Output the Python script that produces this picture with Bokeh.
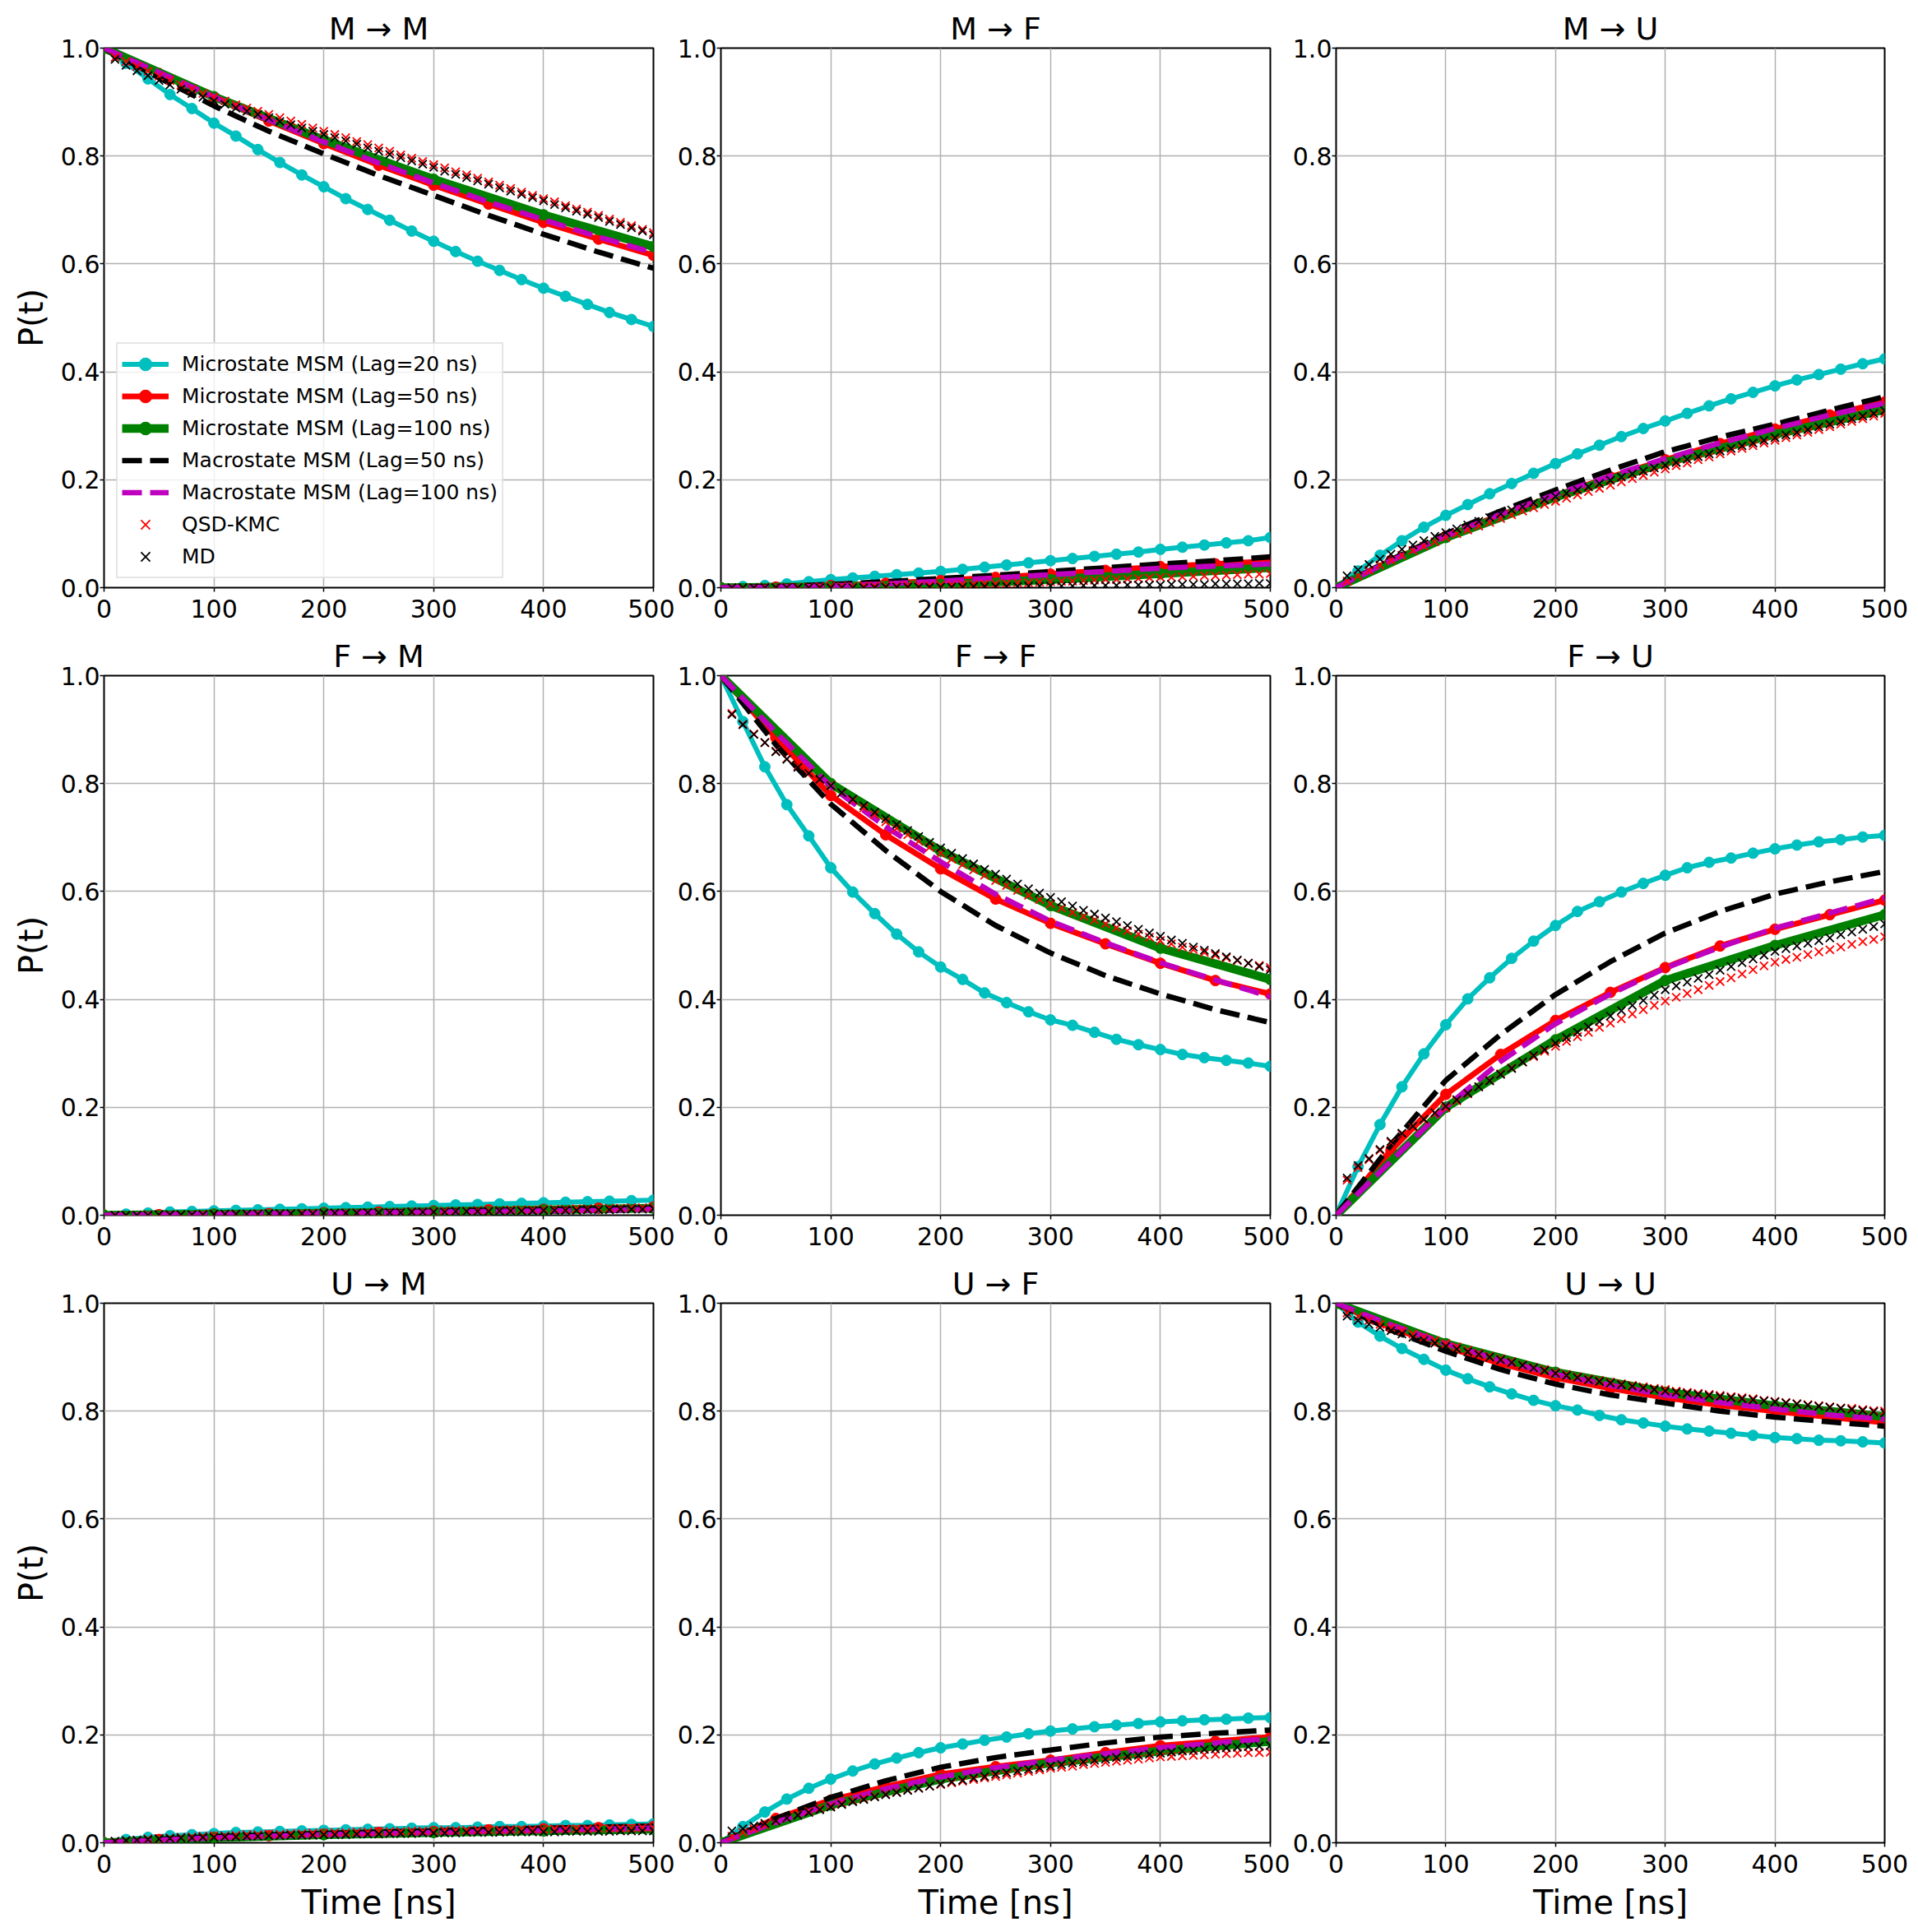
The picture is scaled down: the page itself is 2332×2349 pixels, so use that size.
from bokeh.plotting import figure
from bokeh.layouts import column, row
from bokeh.models import Range1d, FixedTicker, PrintfTickFormatter, Legend, LegendItem
from bokeh.embed import file_html
from bokeh.resources import INLINE

# ---------------- data ----------------
T_LAG20 = [0, 20, 40, 60, 80, 100, 120, 140, 160, 180, 200, 220, 240, 260, 280,
           300, 320, 340, 360, 380, 400, 420, 440, 460, 480, 500]
T_LAG50 = [0, 50, 100, 150, 200, 250, 300, 350, 400, 450, 500]
T_LAG100 = [0, 100, 200, 300, 400, 500]
T_TRAJ = [10, 20, 30, 40, 50, 60, 70, 80, 90, 100,
          110, 120, 130, 140, 150, 160, 170, 180, 190, 200,
          210, 220, 230, 240, 250, 260, 270, 280, 290, 300,
          310, 320, 330, 340, 350, 360, 370, 380, 390, 400,
          410, 420, 430, 440, 450, 460, 470, 480, 490, 500]
X_TICKS = [0, 100, 200, 300, 400, 500]
Y_TICKS = [0.0, 0.2, 0.4, 0.6, 0.8, 1.0]

# Microstate MSM (Lag=20 ns)
CYAN_MM = [1.0, 0.972, 0.943, 0.914, 0.888, 0.861, 0.837, 0.812, 0.788, 0.765, 0.743, 0.721, 0.701,
           0.681, 0.661, 0.642, 0.623, 0.605, 0.588, 0.571, 0.555, 0.540, 0.525, 0.510, 0.497, 0.484]
CYAN_MF = [0.0, 0.002, 0.004, 0.007, 0.011, 0.015, 0.018, 0.021, 0.024, 0.027, 0.030, 0.034, 0.038,
           0.042, 0.046, 0.050, 0.054, 0.058, 0.062, 0.066, 0.071, 0.075, 0.079, 0.083, 0.087, 0.093]
CYAN_MU = [0.0, 0.031, 0.060, 0.087, 0.112, 0.134, 0.154, 0.174, 0.193, 0.212, 0.230, 0.248, 0.264,
           0.280, 0.295, 0.309, 0.323, 0.337, 0.350, 0.362, 0.374, 0.385, 0.395, 0.405, 0.415, 0.424]
CYAN_FM = [0.0, 0.002, 0.004, 0.006, 0.007, 0.008, 0.009, 0.010, 0.011, 0.012, 0.013, 0.014, 0.015,
           0.016, 0.017, 0.018, 0.019, 0.020, 0.021, 0.022, 0.023, 0.024, 0.025, 0.026, 0.027, 0.028]
CYAN_FF = [1.0, 0.915, 0.831, 0.761, 0.703, 0.644, 0.599, 0.559, 0.521, 0.488, 0.460, 0.437, 0.412,
           0.394, 0.377, 0.362, 0.352, 0.339, 0.326, 0.316, 0.307, 0.298, 0.292, 0.287, 0.282, 0.276]
CYAN_FU = [0.0, 0.090, 0.168, 0.238, 0.299, 0.353, 0.401, 0.440, 0.476, 0.508, 0.537, 0.563, 0.581,
           0.599, 0.615, 0.630, 0.644, 0.654, 0.662, 0.671, 0.679, 0.686, 0.692, 0.696, 0.701, 0.704]
CYAN_UM = [0.0, 0.006, 0.010, 0.013, 0.015, 0.017, 0.019, 0.020, 0.021, 0.022, 0.023, 0.024, 0.025,
           0.026, 0.027, 0.028, 0.028, 0.029, 0.030, 0.030, 0.031, 0.032, 0.032, 0.033, 0.034, 0.035]
CYAN_UF = [0.0, 0.030, 0.057, 0.081, 0.101, 0.118, 0.133, 0.146, 0.157, 0.167, 0.176, 0.183, 0.190,
           0.196, 0.202, 0.207, 0.211, 0.215, 0.218, 0.221, 0.224, 0.226, 0.228, 0.229, 0.231, 0.232]
CYAN_UU = [1.0, 0.965, 0.939, 0.916, 0.896, 0.876, 0.860, 0.845, 0.832, 0.820, 0.810, 0.802, 0.792,
           0.784, 0.778, 0.772, 0.767, 0.763, 0.759, 0.755, 0.751, 0.749, 0.746, 0.745, 0.743, 0.741]

# Microstate MSM (Lag=50 ns)
RED_MM = [1.0, 0.953, 0.908, 0.865, 0.823, 0.783, 0.746, 0.711, 0.677, 0.646, 0.616]
RED_MF = [0.0, 0.001, 0.004, 0.008, 0.013, 0.019, 0.025, 0.032, 0.039, 0.044, 0.049]
RED_MU = [0.0, 0.050, 0.095, 0.135, 0.171, 0.205, 0.237, 0.267, 0.294, 0.320, 0.344]
RED_FM = [0.0, 0.001, 0.002, 0.003, 0.005, 0.006, 0.008, 0.010, 0.011, 0.013, 0.015]
RED_FF = [1.0, 0.885, 0.778, 0.705, 0.642, 0.586, 0.541, 0.503, 0.467, 0.435, 0.410]
RED_FU = [0.0, 0.120, 0.224, 0.298, 0.361, 0.413, 0.459, 0.499, 0.530, 0.557, 0.584]
RED_UM = [0.0, 0.006, 0.010, 0.013, 0.016, 0.019, 0.021, 0.024, 0.026, 0.028, 0.030]
RED_UF = [0.0, 0.045, 0.079, 0.104, 0.127, 0.141, 0.153, 0.167, 0.180, 0.188, 0.196]
RED_UU = [1.0, 0.955, 0.919, 0.888, 0.862, 0.842, 0.825, 0.811, 0.800, 0.789, 0.779]

# Microstate MSM (Lag=100 ns)
GREEN_MM = [1.0, 0.910, 0.830, 0.757, 0.691, 0.632]
GREEN_MF = [0.0, 0.002, 0.006, 0.015, 0.026, 0.037]
GREEN_MU = [0.0, 0.093, 0.168, 0.232, 0.284, 0.330]
GREEN_FM = [0.0, 0.002, 0.004, 0.007, 0.010, 0.013]
GREEN_FF = [1.0, 0.800, 0.675, 0.574, 0.495, 0.437]
GREEN_FU = [0.0, 0.200, 0.325, 0.435, 0.500, 0.557]
GREEN_UM = [0.0, 0.009, 0.015, 0.019, 0.022, 0.025]
GREEN_UF = [0.0, 0.070, 0.118, 0.148, 0.170, 0.188]
GREEN_UU = [1.0, 0.925, 0.872, 0.835, 0.810, 0.790]

# Macrostate MSM (Lag=50 ns)
BLACK_MM = [1.0, 0.945, 0.893, 0.846, 0.804, 0.764, 0.727, 0.690, 0.655, 0.622, 0.592]
BLACK_MF = [0.0, 0.002, 0.006, 0.011, 0.017, 0.023, 0.030, 0.037, 0.044, 0.050, 0.057]
BLACK_MU = [0.0, 0.052, 0.100, 0.142, 0.181, 0.218, 0.252, 0.279, 0.303, 0.329, 0.354]
BLACK_FM = [0.0, 0.001, 0.002, 0.003, 0.004, 0.006, 0.007, 0.009, 0.010, 0.012, 0.013]
BLACK_FF = [1.0, 0.872, 0.762, 0.676, 0.600, 0.537, 0.486, 0.444, 0.410, 0.381, 0.357]
BLACK_FU = [0.0, 0.130, 0.250, 0.335, 0.409, 0.470, 0.523, 0.563, 0.595, 0.618, 0.637]
BLACK_UM = [0.0, 0.006, 0.011, 0.014, 0.017, 0.020, 0.022, 0.025, 0.027, 0.029, 0.031]
BLACK_UF = [0.0, 0.045, 0.084, 0.115, 0.140, 0.158, 0.172, 0.185, 0.196, 0.203, 0.209]
BLACK_UU = [1.0, 0.950, 0.911, 0.877, 0.850, 0.830, 0.815, 0.800, 0.789, 0.780, 0.772]

# Macrostate MSM (Lag=100 ns)
MAG_MM = [1.0, 0.955, 0.910, 0.867, 0.826, 0.787, 0.750, 0.715, 0.682, 0.650, 0.621]
MAG_MF = [0.0, 0.001, 0.003, 0.007, 0.012, 0.018, 0.024, 0.030, 0.036, 0.040, 0.044]
MAG_MU = [0.0, 0.050, 0.096, 0.136, 0.173, 0.207, 0.239, 0.268, 0.295, 0.320, 0.342]
MAG_FM = [0.0, 0.001, 0.002, 0.003, 0.004, 0.005, 0.006, 0.007, 0.008, 0.009, 0.011]
MAG_FF = [1.0, 0.895, 0.795, 0.720, 0.655, 0.595, 0.545, 0.505, 0.468, 0.436, 0.405]
MAG_FU = [0.0, 0.100, 0.200, 0.285, 0.355, 0.410, 0.458, 0.497, 0.532, 0.560, 0.588]
MAG_UM = [0.0, 0.005, 0.009, 0.012, 0.015, 0.017, 0.019, 0.021, 0.023, 0.025, 0.027]
MAG_UF = [0.0, 0.038, 0.072, 0.100, 0.122, 0.139, 0.153, 0.165, 0.176, 0.185, 0.193]
MAG_UU = [1.0, 0.960, 0.925, 0.894, 0.868, 0.848, 0.830, 0.816, 0.804, 0.793, 0.785]

# QSD-KMC
QSD_MM = [0.983, 0.975, 0.966, 0.957, 0.948, 0.940, 0.932, 0.924, 0.916, 0.909,
          0.902, 0.895, 0.889, 0.883, 0.877, 0.871, 0.865, 0.859, 0.852, 0.846,
          0.840, 0.834, 0.827, 0.821, 0.815, 0.809, 0.802, 0.796, 0.790, 0.784,
          0.778, 0.771, 0.765, 0.759, 0.752, 0.746, 0.740, 0.733, 0.727, 0.721,
          0.715, 0.708, 0.702, 0.696, 0.690, 0.683, 0.677, 0.671, 0.664, 0.658]
QSD_MF = [0.000, 0.000, 0.000, 0.001, 0.001, 0.001, 0.001, 0.001, 0.002, 0.002,
          0.002, 0.002, 0.003, 0.003, 0.003, 0.003, 0.004, 0.004, 0.004, 0.005,
          0.005, 0.006, 0.006, 0.007, 0.007, 0.008, 0.009, 0.009, 0.010, 0.011,
          0.012, 0.012, 0.013, 0.014, 0.015, 0.015, 0.016, 0.017, 0.018, 0.019,
          0.019, 0.020, 0.021, 0.022, 0.022, 0.023, 0.024, 0.025, 0.025, 0.026]
QSD_MU = [0.012, 0.022, 0.032, 0.042, 0.051, 0.060, 0.069, 0.077, 0.085, 0.093,
          0.100, 0.107, 0.114, 0.121, 0.128, 0.135, 0.142, 0.148, 0.154, 0.160,
          0.166, 0.172, 0.178, 0.184, 0.190, 0.196, 0.202, 0.208, 0.214, 0.220,
          0.226, 0.231, 0.237, 0.242, 0.248, 0.253, 0.258, 0.263, 0.268, 0.273,
          0.278, 0.283, 0.288, 0.293, 0.298, 0.303, 0.308, 0.313, 0.318, 0.323]
QSD_FM = [0.000, 0.000, 0.000, 0.001, 0.001, 0.001, 0.001, 0.001, 0.002, 0.002,
          0.002, 0.002, 0.002, 0.003, 0.003, 0.003, 0.003, 0.004, 0.004, 0.004,
          0.004, 0.005, 0.005, 0.005, 0.006, 0.006, 0.006, 0.007, 0.007, 0.007,
          0.008, 0.008, 0.008, 0.009, 0.009, 0.009, 0.010, 0.010, 0.010, 0.011,
          0.011, 0.011, 0.012, 0.012, 0.013, 0.013, 0.013, 0.014, 0.014, 0.015]
QSD_FF = [0.930, 0.910, 0.892, 0.876, 0.860, 0.846, 0.832, 0.820, 0.808, 0.797,
          0.783, 0.769, 0.755, 0.742, 0.729, 0.717, 0.705, 0.693, 0.682, 0.671,
          0.660, 0.650, 0.640, 0.630, 0.620, 0.611, 0.602, 0.593, 0.585, 0.577,
          0.569, 0.561, 0.554, 0.547, 0.540, 0.533, 0.527, 0.521, 0.515, 0.509,
          0.503, 0.497, 0.492, 0.487, 0.482, 0.477, 0.472, 0.467, 0.463, 0.459]
QSD_FU = [0.065, 0.088, 0.103, 0.120, 0.135, 0.150, 0.163, 0.176, 0.188, 0.199,
          0.212, 0.225, 0.238, 0.250, 0.262, 0.273, 0.284, 0.294, 0.304, 0.313,
          0.322, 0.331, 0.339, 0.348, 0.356, 0.364, 0.373, 0.381, 0.389, 0.397,
          0.404, 0.411, 0.418, 0.426, 0.433, 0.440, 0.447, 0.455, 0.462, 0.469,
          0.474, 0.478, 0.483, 0.488, 0.492, 0.497, 0.502, 0.507, 0.511, 0.516]
QSD_UM = [0.002, 0.004, 0.005, 0.007, 0.008, 0.009, 0.010, 0.011, 0.012, 0.013,
          0.013, 0.014, 0.015, 0.015, 0.016, 0.016, 0.017, 0.017, 0.018, 0.018,
          0.019, 0.019, 0.020, 0.020, 0.021, 0.021, 0.021, 0.022, 0.022, 0.022,
          0.023, 0.023, 0.023, 0.024, 0.024, 0.024, 0.025, 0.025, 0.025, 0.025,
          0.026, 0.026, 0.026, 0.026, 0.027, 0.027, 0.027, 0.027, 0.028, 0.028]
QSD_UF = [0.012, 0.019, 0.026, 0.033, 0.040, 0.046, 0.052, 0.058, 0.063, 0.068,
          0.073, 0.078, 0.082, 0.086, 0.090, 0.094, 0.098, 0.101, 0.105, 0.108,
          0.111, 0.114, 0.117, 0.120, 0.123, 0.126, 0.129, 0.132, 0.135, 0.138,
          0.140, 0.142, 0.145, 0.147, 0.149, 0.151, 0.153, 0.155, 0.157, 0.159,
          0.160, 0.161, 0.162, 0.163, 0.164, 0.165, 0.166, 0.167, 0.167, 0.168]
QSD_UU = [0.982, 0.975, 0.968, 0.961, 0.955, 0.949, 0.943, 0.937, 0.931, 0.925,
          0.919, 0.913, 0.907, 0.902, 0.897, 0.892, 0.886, 0.881, 0.877, 0.872,
          0.868, 0.864, 0.860, 0.857, 0.854, 0.851, 0.848, 0.845, 0.842, 0.840,
          0.837, 0.835, 0.833, 0.831, 0.829, 0.827, 0.825, 0.823, 0.820, 0.818,
          0.816, 0.814, 0.812, 0.810, 0.808, 0.806, 0.805, 0.803, 0.801, 0.800]

# MD
MD_MM = [0.979, 0.968, 0.958, 0.949, 0.940, 0.932, 0.924, 0.916, 0.909, 0.902,
         0.896, 0.889, 0.883, 0.877, 0.871, 0.864, 0.858, 0.852, 0.846, 0.840,
         0.834, 0.828, 0.822, 0.815, 0.809, 0.803, 0.797, 0.791, 0.785, 0.779,
         0.772, 0.766, 0.760, 0.754, 0.748, 0.741, 0.735, 0.729, 0.723, 0.717,
         0.710, 0.704, 0.698, 0.692, 0.686, 0.679, 0.673, 0.667, 0.661, 0.654]
MD_MF = [0.000, 0.000, 0.000, 0.000, 0.000, 0.000, 0.000, 0.000, 0.000, 0.000,
         0.000, 0.000, 0.000, 0.000, 0.001, 0.001, 0.001, 0.001, 0.001, 0.001,
         0.001, 0.001, 0.002, 0.002, 0.002, 0.002, 0.002, 0.003, 0.003, 0.003,
         0.003, 0.003, 0.004, 0.004, 0.004, 0.004, 0.005, 0.005, 0.005, 0.005,
         0.006, 0.006, 0.006, 0.006, 0.007, 0.007, 0.007, 0.007, 0.008, 0.008]
MD_MU = [0.022, 0.033, 0.043, 0.053, 0.062, 0.071, 0.079, 0.087, 0.095, 0.102,
         0.109, 0.116, 0.123, 0.130, 0.137, 0.144, 0.150, 0.157, 0.163, 0.169,
         0.175, 0.181, 0.187, 0.193, 0.199, 0.205, 0.211, 0.216, 0.222, 0.227,
         0.232, 0.238, 0.243, 0.248, 0.253, 0.258, 0.263, 0.268, 0.273, 0.278,
         0.283, 0.288, 0.293, 0.298, 0.303, 0.308, 0.313, 0.318, 0.323, 0.328]
MD_FM = [0.000, 0.000, 0.000, 0.000, 0.001, 0.001, 0.001, 0.001, 0.001, 0.002,
         0.002, 0.002, 0.002, 0.002, 0.003, 0.003, 0.003, 0.003, 0.003, 0.004,
         0.004, 0.004, 0.004, 0.005, 0.005, 0.005, 0.005, 0.006, 0.006, 0.006,
         0.006, 0.007, 0.007, 0.007, 0.007, 0.008, 0.008, 0.008, 0.008, 0.009,
         0.009, 0.009, 0.009, 0.010, 0.010, 0.010, 0.011, 0.011, 0.011, 0.012]
MD_FF = [0.928, 0.909, 0.891, 0.876, 0.859, 0.845, 0.830, 0.819, 0.808, 0.796,
         0.783, 0.771, 0.759, 0.747, 0.735, 0.724, 0.713, 0.702, 0.691, 0.681,
         0.671, 0.661, 0.651, 0.641, 0.632, 0.623, 0.614, 0.605, 0.597, 0.589,
         0.581, 0.573, 0.565, 0.558, 0.551, 0.544, 0.537, 0.530, 0.523, 0.517,
         0.510, 0.504, 0.497, 0.491, 0.485, 0.479, 0.473, 0.467, 0.461, 0.455]
MD_FU = [0.069, 0.092, 0.105, 0.122, 0.137, 0.152, 0.165, 0.178, 0.190, 0.202,
         0.214, 0.226, 0.238, 0.249, 0.261, 0.272, 0.284, 0.296, 0.307, 0.319,
         0.329, 0.339, 0.349, 0.359, 0.369, 0.379, 0.389, 0.398, 0.408, 0.418,
         0.425, 0.432, 0.439, 0.446, 0.454, 0.461, 0.468, 0.475, 0.482, 0.489,
         0.494, 0.499, 0.504, 0.509, 0.514, 0.520, 0.525, 0.530, 0.535, 0.540]
MD_UM = [0.003, 0.004, 0.005, 0.006, 0.007, 0.008, 0.009, 0.009, 0.010, 0.010,
         0.011, 0.011, 0.012, 0.012, 0.013, 0.013, 0.014, 0.014, 0.014, 0.015,
         0.015, 0.015, 0.016, 0.016, 0.016, 0.017, 0.017, 0.017, 0.018, 0.018,
         0.018, 0.018, 0.019, 0.019, 0.019, 0.019, 0.020, 0.020, 0.020, 0.020,
         0.020, 0.021, 0.021, 0.021, 0.021, 0.021, 0.022, 0.022, 0.022, 0.022]
MD_UF = [0.022, 0.026, 0.031, 0.036, 0.041, 0.046, 0.051, 0.056, 0.061, 0.066,
         0.071, 0.076, 0.080, 0.085, 0.089, 0.093, 0.097, 0.101, 0.105, 0.109,
         0.113, 0.116, 0.120, 0.123, 0.127, 0.130, 0.133, 0.136, 0.139, 0.142,
         0.145, 0.148, 0.150, 0.153, 0.155, 0.158, 0.160, 0.162, 0.164, 0.166,
         0.168, 0.170, 0.171, 0.173, 0.174, 0.176, 0.177, 0.178, 0.179, 0.180]
MD_UU = [0.976, 0.968, 0.961, 0.955, 0.949, 0.943, 0.937, 0.931, 0.926, 0.920,
         0.915, 0.910, 0.905, 0.900, 0.895, 0.890, 0.885, 0.880, 0.875, 0.870,
         0.866, 0.862, 0.858, 0.855, 0.852, 0.849, 0.846, 0.843, 0.840, 0.837,
         0.835, 0.833, 0.831, 0.829, 0.827, 0.825, 0.823, 0.821, 0.819, 0.817,
         0.815, 0.813, 0.811, 0.809, 0.807, 0.805, 0.803, 0.801, 0.799, 0.797]

PANELS = [["MM", "MF", "MU"], ["FM", "FF", "FU"], ["UM", "UF", "UU"]]
CYAN = {"MM": CYAN_MM, "MF": CYAN_MF, "MU": CYAN_MU, "FM": CYAN_FM, "FF": CYAN_FF,
        "FU": CYAN_FU, "UM": CYAN_UM, "UF": CYAN_UF, "UU": CYAN_UU}
RED = {"MM": RED_MM, "MF": RED_MF, "MU": RED_MU, "FM": RED_FM, "FF": RED_FF,
       "FU": RED_FU, "UM": RED_UM, "UF": RED_UF, "UU": RED_UU}
GREEN = {"MM": GREEN_MM, "MF": GREEN_MF, "MU": GREEN_MU, "FM": GREEN_FM, "FF": GREEN_FF,
         "FU": GREEN_FU, "UM": GREEN_UM, "UF": GREEN_UF, "UU": GREEN_UU}
BLACK = {"MM": BLACK_MM, "MF": BLACK_MF, "MU": BLACK_MU, "FM": BLACK_FM, "FF": BLACK_FF,
         "FU": BLACK_FU, "UM": BLACK_UM, "UF": BLACK_UF, "UU": BLACK_UU}
MAG = {"MM": MAG_MM, "MF": MAG_MF, "MU": MAG_MU, "FM": MAG_FM, "FF": MAG_FF,
       "FU": MAG_FU, "UM": MAG_UM, "UF": MAG_UF, "UU": MAG_UU}
QSD = {"MM": QSD_MM, "MF": QSD_MF, "MU": QSD_MU, "FM": QSD_FM, "FF": QSD_FF,
       "FU": QSD_FU, "UM": QSD_UM, "UF": QSD_UF, "UU": QSD_UU}
MD = {"MM": MD_MM, "MF": MD_MF, "MU": MD_MU, "FM": MD_FM, "FF": MD_FF,
      "FU": MD_FU, "UM": MD_UM, "UF": MD_UF, "UU": MD_UU}

LABELS = ["Microstate MSM (Lag=20 ns)", "Microstate MSM (Lag=50 ns)",
          "Microstate MSM (Lag=100 ns)", "Macrostate MSM (Lag=50 ns)",
          "Macrostate MSM (Lag=100 ns)", "QSD-KMC", "MD"]

# ---------------- layout / style ----------------
FONT = "DejaVu Sans"
C_CYAN, C_RED, C_GREEN, C_BLACK, C_MAG = "#00BFBF", "#FF0000", "#008000", "#000000", "#BF00BF"
COL_LEFT = [126, 55, 55]
COL_RIGHT = [26, 24, 43]
COL_FW = [668, 668, 667]
ROW_TOP = [58, 57, 57]
ROW_BOTTOM = [50, 50, 109]
FH = 656


def make_panel(key, r, c):
    p = figure(frame_width=COL_FW[c], frame_height=FH,
               x_range=Range1d(0, 500), y_range=Range1d(0, 1),
               output_backend="svg", toolbar_location=None,
               min_border_left=COL_LEFT[c], min_border_right=COL_RIGHT[c],
               min_border_top=ROW_TOP[r], min_border_bottom=ROW_BOTTOM[r])
    p.title.text = f"{key[0]} \u2192 {key[1]}"
    p.title.align = "center"
    p.title.text_font = FONT
    p.title.text_font_size = "38px"
    p.title.text_font_style = "normal"
    p.title.text_color = "black"
    p.title.standoff = 3
    p.background_fill_color = "white"
    p.border_fill_color = "white"
    p.outline_line_color = "black"
    p.outline_line_width = 2
    p.outline_line_alpha = 1.0

    p.xaxis.ticker = FixedTicker(ticks=X_TICKS)
    p.yaxis.ticker = FixedTicker(ticks=Y_TICKS)
    p.yaxis.formatter = PrintfTickFormatter(format="%.1f")
    for ax in (p.xaxis[0], p.yaxis[0]):
        ax.major_label_text_font = FONT
        ax.major_label_text_font_size = "30px"
        ax.major_label_text_color = "black"
        ax.axis_line_color = None
        ax.major_tick_out = 5
        ax.major_tick_in = 0
        ax.major_tick_line_color = "black"
        ax.major_tick_line_width = 1.5
        ax.minor_tick_line_color = None
        ax.axis_label_text_font = FONT
        ax.axis_label_text_font_style = "normal"
        ax.axis_label_text_color = "black"
    p.xaxis.major_label_standoff = 9
    p.yaxis.major_label_standoff = 0
    if c == 0:
        p.yaxis.axis_label = "P(t)"
        p.yaxis.axis_label_text_font_size = "40px"
        p.yaxis.axis_label_standoff = 10
    if r == 2:
        p.xaxis.axis_label = "Time [ns]"
        p.xaxis.axis_label_text_font_size = "40px"
        p.xaxis.axis_label_standoff = 10

    p.xgrid.grid_line_color = "#b0b0b0"
    p.ygrid.grid_line_color = "#b0b0b0"
    p.xgrid.grid_line_width = 1.5
    p.ygrid.grid_line_width = 1.5

    l1 = p.line(T_LAG20, CYAN[key], line_color=C_CYAN, line_width=6, line_join="round")
    s1 = p.scatter(T_LAG20, CYAN[key], marker="circle", size=13, fill_color=C_CYAN, line_color=C_CYAN)
    l2 = p.line(T_LAG50, RED[key], line_color=C_RED, line_width=7, line_join="round")
    s2 = p.scatter(T_LAG50, RED[key], marker="circle", size=13, fill_color=C_RED, line_color=C_RED)
    l3 = p.line(T_LAG100, GREEN[key], line_color=C_GREEN, line_width=10.5, line_join="round")
    s3 = p.scatter(T_LAG100, GREEN[key], marker="circle", size=13, fill_color=C_GREEN, line_color=C_GREEN)
    l4 = p.line(T_LAG50, BLACK[key], line_color=C_BLACK, line_width=6.5, line_dash="24 10")
    l5 = p.line(T_LAG50, MAG[key], line_color=C_MAG, line_width=6.5, line_dash="24 10")
    s6 = p.scatter(T_TRAJ, QSD[key], marker="x", size=14, line_color=C_RED, line_width=1.8)
    s7 = p.scatter(T_TRAJ, MD[key], marker="x", size=14, line_color=C_BLACK, line_width=1.8)

    if key == "MM":
        items = [LegendItem(label=LABELS[0], renderers=[l1, s1]),
                 LegendItem(label=LABELS[1], renderers=[l2, s2]),
                 LegendItem(label=LABELS[2], renderers=[l3, s3]),
                 LegendItem(label=LABELS[3], renderers=[l4]),
                 LegendItem(label=LABELS[4], renderers=[l5]),
                 LegendItem(label=LABELS[5], renderers=[s6]),
                 LegendItem(label=LABELS[6], renderers=[s7])]
        leg = Legend(items=items, location=(15, 11))
        leg.label_text_font = FONT
        leg.label_text_font_size = "25px"
        leg.label_text_color = "black"
        leg.glyph_width = 57
        leg.glyph_height = 39
        leg.label_height = 39
        leg.label_standoff = 16
        leg.padding = 5
        leg.spacing = 0
        leg.margin = 0
        leg.border_line_color = "#cccccc"
        leg.border_line_width = 2
        leg.background_fill_alpha = 0.8
        p.add_layout(leg)
    return p


rows = []
for r in range(3):
    figs = [make_panel(PANELS[r][c], r, c) for c in range(3)]
    rows.append(row(*figs))
layout = column(*rows)

open("out.html", "w").write(file_html(layout, INLINE))
